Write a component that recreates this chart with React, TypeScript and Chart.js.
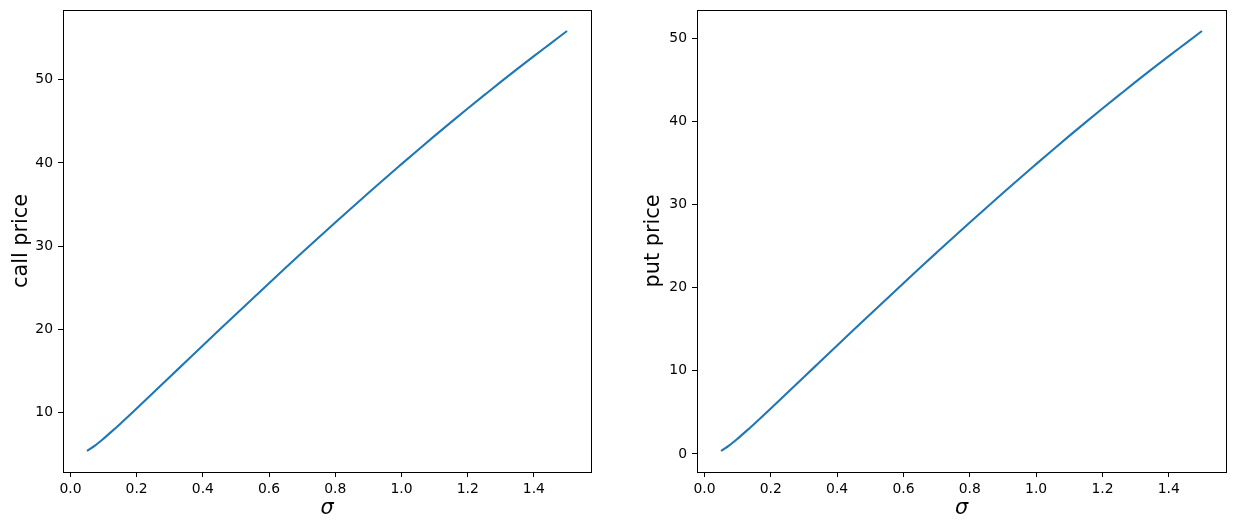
import React, { useEffect, useRef } from "react";
import { Chart, registerables } from "chart.js";

Chart.register(...registerables);

const sigma = [
  0.05, 0.075, 0.1, 0.125, 0.15, 0.2, 0.25, 0.3, 0.35, 0.4, 0.45, 0.5,
  0.55, 0.6, 0.65, 0.7, 0.75, 0.8, 0.85, 0.9, 0.95, 1.0,
  1.05, 1.1, 1.15, 1.2, 1.25, 1.3, 1.35, 1.4, 1.45, 1.5,
];

const callPrice = [
  5.34, 6.02, 6.83, 7.7, 8.6, 10.46, 12.35, 14.24, 16.14, 18.03, 19.92, 21.8,
  23.67, 25.53, 27.38, 29.21, 31.03, 32.83, 34.61, 36.38, 38.13, 39.85,
  41.56, 43.25, 44.91, 46.54, 48.15, 49.75, 51.31, 52.85, 54.36, 55.87,
];

const putPrice = [
  0.36, 1.04, 1.85, 2.72, 3.62, 5.48, 7.37, 9.26, 11.16, 13.05, 14.94, 16.82,
  18.69, 20.55, 22.4, 24.23, 26.05, 27.85, 29.63, 31.4, 33.15, 34.87,
  36.58, 38.27, 39.93, 41.56, 43.17, 44.77, 46.33, 47.87, 49.38, 50.89,
];

const xTicks = [0.0, 0.2, 0.4, 0.6, 0.8, 1.0, 1.2, 1.4];
const callTicks = [10, 20, 30, 40, 50];
const putTicks = [0, 10, 20, 30, 40, 50];

const FONT = "'DejaVu Sans', sans-serif";

const framePlugin = {
  id: "frame",
  afterDraw(chart: any) {
    const { ctx, chartArea } = chart;
    ctx.save();
    ctx.strokeStyle = "#000";
    ctx.lineWidth = 1;
    ctx.strokeRect(
      Math.round(chartArea.left) + 0.5,
      Math.round(chartArea.top) + 0.5,
      Math.round(chartArea.right) - Math.round(chartArea.left),
      Math.round(chartArea.bottom) - Math.round(chartArea.top)
    );
    ctx.restore();
  },
};

function margins(vals: number[]) {
  const lo = Math.min(...vals);
  const hi = Math.max(...vals);
  const m = (hi - lo) * 0.05;
  return [lo - m, hi + m];
}

function makeConfig(
  yVals: number[],
  yTicks: number[],
  yLabel: string,
  yAxisWidth: number,
  rightPad: number,
  yTitlePad: number
): any {
  const [xmin, xmax] = margins(sigma);
  const [ymin, ymax] = margins(yVals);
  const tickFont = { family: FONT, size: 13.9 };
  const titleFont = { family: FONT, size: 20.8 };
  return {
    type: "line",
    data: {
      datasets: [
        {
          data: sigma.map((s, i) => ({ x: s, y: yVals[i] })),
          borderColor: "#1f77b4",
          borderWidth: 2.1,
          pointRadius: 0,
          fill: false,
          cubicInterpolationMode: "monotone",
        },
      ],
    },
    options: {
      animation: false,
      responsive: false,
      events: [],
      layout: { padding: { left: 0, top: 10, right: rightPad, bottom: 0 } },
      plugins: { legend: { display: false }, tooltip: { enabled: false } },
      scales: {
        x: {
          type: "linear",
          min: xmin,
          max: xmax,
          border: { display: false },
          grid: {
            display: true,
            drawOnChartArea: false,
            drawTicks: true,
            tickLength: 5,
            color: "#000",
            lineWidth: 1,
          },
          ticks: {
            color: "#000",
            font: tickFont,
            padding: 4,
            maxRotation: 0,
            autoSkip: false,
            callback: (v: number) => Number(v).toFixed(1),
          },
          afterBuildTicks: (scale: any) => {
            scale.ticks = xTicks.map((v) => ({ value: v }));
          },
          afterFit: (scale: any) => {
            scale.height = 59;
            scale.paddingLeft = 0;
            scale.paddingRight = 0;
          },
          title: {
            display: true,
            text: "σ",
            color: "#000",
            font: { ...titleFont, style: "italic" },
            padding: { top: 0, bottom: 10 },
          },
        },
        y: {
          type: "linear",
          min: ymin,
          max: ymax,
          border: { display: false },
          grid: {
            display: true,
            drawOnChartArea: false,
            drawTicks: true,
            tickLength: 5,
            color: "#000",
            lineWidth: 1,
          },
          ticks: {
            color: "#000",
            font: tickFont,
            padding: 5,
            autoSkip: false,
            callback: (v: number) => String(v),
          },
          afterBuildTicks: (scale: any) => {
            scale.ticks = yTicks.map((v) => ({ value: v }));
          },
          afterFit: (scale: any) => {
            scale.width = yAxisWidth;
            scale.paddingTop = 0;
            scale.paddingBottom = 0;
          },
          title: {
            display: true,
            text: yLabel,
            color: "#000",
            font: titleFont,
            padding: { top: yTitlePad, bottom: 0 },
          },
        },
      },
    },
    plugins: [framePlugin],
  };
}

export default function App() {
  const leftRef = useRef<HTMLCanvasElement>(null);
  const rightRef = useRef<HTMLCanvasElement>(null);

  useEffect(() => {
    const c1 = new Chart(
      leftRef.current as HTMLCanvasElement,
      makeConfig(callPrice, callTicks, "call price", 63, 26, 9)
    );
    const c2 = new Chart(
      rightRef.current as HTMLCanvasElement,
      makeConfig(putPrice, putTicks, "put price", 80, 9, 24)
    );
    return () => {
      c1.destroy();
      c2.destroy();
    };
  }, []);

  return (
    <div
      style={{
        position: "fixed",
        left: 0,
        top: 0,
        width: 1235,
        height: 531,
        background: "#fff",
      }}
    >
      <canvas
        ref={leftRef}
        width={617}
        height={531}
        style={{ position: "absolute", left: 0, top: 0, width: 617, height: 531 }}
      />
      <canvas
        ref={rightRef}
        width={618}
        height={531}
        style={{ position: "absolute", left: 617, top: 0, width: 618, height: 531 }}
      />
    </div>
  );
}
